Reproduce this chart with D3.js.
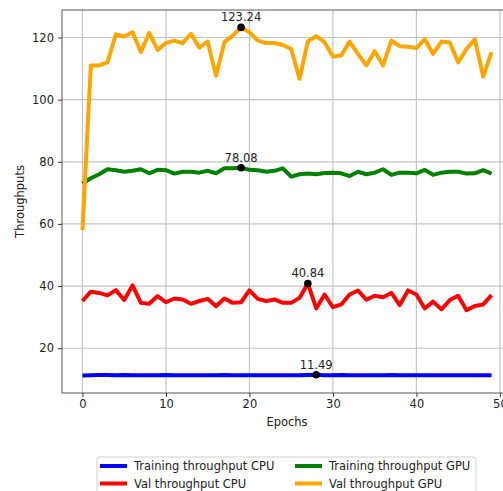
<!DOCTYPE html>
<html>
<head>
<meta charset="utf-8">
<script src="https://cdn.jsdelivr.net/npm/d3@7"></script>
<style>
  html, body { margin: 0; padding: 0; background: #fff; overflow: hidden; }
  svg { display: block; font-family: "DejaVu Sans", sans-serif; }
</style>
</head>
<body>
<div id="chart"></div>
<script>
// values
const epochs = d3.range(50);
const trainCpu = [11.2, 11.3, 11.4, 11.4, 11.3, 11.4, 11.3, 11.3, 11.3, 11.3,
  11.4, 11.3, 11.3, 11.3, 11.3, 11.3, 11.3, 11.4, 11.3, 11.3,
  11.3, 11.3, 11.3, 11.3, 11.3, 11.3, 11.3, 11.4, 11.49, 11.3,
  11.3, 11.4, 11.3, 11.3, 11.3, 11.3, 11.3, 11.4, 11.3, 11.3,
  11.3, 11.3, 11.3, 11.3, 11.3, 11.3, 11.3, 11.3, 11.3, 11.3];
const trainGpu = [73.0, 74.7, 76.0, 77.6, 77.3, 76.8, 77.1, 77.6, 76.3, 77.4,
  77.3, 76.2, 76.8, 76.8, 76.5, 77.1, 76.3, 77.9, 77.9, 78.08,
  77.4, 77.3, 76.8, 77.1, 77.9, 75.2, 76.0, 76.2, 76.0, 76.4,
  76.5, 76.3, 75.4, 76.8, 76.0, 76.5, 77.6, 75.8, 76.5, 76.5,
  76.3, 77.4, 75.8, 76.5, 76.8, 76.8, 76.2, 76.3, 77.3, 76.2];
const valCpu = [35.2, 38.2, 37.8, 37.0, 38.7, 35.5, 40.2, 34.6, 34.3, 36.8,
  34.8, 36.0, 35.7, 34.3, 35.2, 35.9, 33.5, 36.0, 34.6, 34.8,
  38.6, 35.9, 35.2, 35.7, 34.6, 34.6, 36.2, 40.84, 32.8, 37.3,
  33.2, 34.1, 37.3, 38.6, 35.6, 36.9, 36.4, 37.8, 33.9, 38.6,
  37.3, 32.8, 35.0, 32.5, 35.5, 36.9, 32.2, 33.6, 34.1, 37.1];
const valGpu = [58.0, 111.0, 111.0, 112.0, 121.0, 120.3, 121.7, 115.3, 121.5, 116.0,
  118.2, 119.0, 118.2, 121.2, 116.7, 118.7, 107.7, 118.5, 120.6, 123.24,
  121.7, 119.0, 118.2, 118.2, 117.6, 116.3, 106.7, 118.8, 120.4, 118.5,
  113.9, 114.2, 118.7, 114.7, 111.0, 115.6, 111.0, 119.0, 117.2, 117.0,
  116.6, 119.4, 114.7, 118.7, 118.4, 112.0, 116.3, 119.4, 107.4, 115.3];

const series = [
  { name: "Training throughput CPU", values: trainCpu, color: "blue" },
  { name: "Training throughput GPU", values: trainGpu, color: "green" },
  { name: "Val throughput CPU", values: valCpu, color: "red" },
  { name: "Val throughput GPU", values: valGpu, color: "orange" }
];
const xTicks = [0, 10, 20, 30, 40, 50];
const yTicks = [20, 40, 60, 80, 100, 120];

const W = 503, H = 491;
const plot = { left: 62, right: 512, top: 10, bottom: 393 };
const fs = 11.5;

const svg = d3.select("#chart").append("svg")
  .attr("width", W).attr("height", H);

// matplotlib style 5% margins
const allVals = series.flatMap(s => s.values);
const yMin = d3.min(allVals), yMax = d3.max(allVals);
const yPad = (yMax - yMin) * 0.05;
const x = d3.scaleLinear().domain([-2.45, 51.45]).range([plot.left, plot.right]);
const y = d3.scaleLinear().domain([yMin - yPad, yMax + yPad]).range([plot.bottom, plot.top]);

// grid
const grid = svg.append("g").attr("stroke", "#c4c4c4").attr("stroke-width", 1.2);
grid.selectAll(".gx").data(xTicks).enter().append("line")
  .attr("x1", d => x(d)).attr("x2", d => x(d))
  .attr("y1", plot.top).attr("y2", plot.bottom);
grid.selectAll(".gy").data(yTicks).enter().append("line")
  .attr("y1", d => y(d)).attr("y2", d => y(d))
  .attr("x1", plot.left).attr("x2", plot.right);

// axes
const xAxis = svg.append("g")
  .attr("transform", `translate(0,${plot.bottom})`)
  .call(d3.axisBottom(x).tickValues(xTicks).tickSize(4).tickPadding(3));
const yAxis = svg.append("g")
  .attr("transform", `translate(${plot.left},0)`)
  .call(d3.axisLeft(y).tickValues(yTicks).tickSize(4).tickPadding(4));
[xAxis, yAxis].forEach(a => {
  a.select(".domain").remove();
  a.selectAll("text").attr("font-size", fs).attr("fill", "#222")
    .attr("font-family", "DejaVu Sans");
  a.selectAll("line").attr("stroke", "#333");
});

// spines
svg.append("rect")
  .attr("x", plot.left).attr("y", plot.top)
  .attr("width", plot.right - plot.left).attr("height", plot.bottom - plot.top)
  .attr("fill", "none").attr("stroke", "#444").attr("stroke-width", 0.9);

// lines
const line = d3.line().x((d, i) => x(epochs[i])).y(d => y(d));
svg.selectAll(".series").data(series).enter().append("path")
  .attr("d", d => line(d.values))
  .attr("fill", "none")
  .attr("stroke", d => d.color)
  .attr("stroke-width", 4)
  .attr("stroke-linejoin", "round");

// max annotations
series.forEach(s => {
  const i = d3.maxIndex(s.values);
  const v = s.values[i];
  svg.append("circle").attr("cx", x(epochs[i])).attr("cy", y(v)).attr("r", 3.8).attr("fill", "black");
  svg.append("text").attr("x", x(epochs[i])).attr("y", y(v) - 6)
    .attr("text-anchor", "middle").attr("font-size", fs).attr("fill", "#222")
    .text(v.toFixed(2));
});

// axis labels
svg.append("text").attr("x", (plot.left + plot.right) / 2).attr("y", 426)
  .attr("text-anchor", "middle").attr("font-size", fs).attr("fill", "#222").text("Epochs");
svg.append("text")
  .attr("transform", `translate(24,${(plot.top + plot.bottom) / 2}) rotate(-90)`)
  .attr("text-anchor", "middle").attr("font-size", fs).attr("fill", "#222").text("Throughputs");

// legend
const lg = svg.append("g").attr("transform", "translate(97,457)");
lg.append("rect").attr("width", 379).attr("height", 42).attr("rx", 3)
  .attr("fill", "white").attr("stroke", "#d0d0d0");
const cols = [3, 198];
series.forEach((s, k) => {
  const cx = cols[k % 2], cy = 9 + Math.floor(k / 2) * 17.5;
  lg.append("line").attr("x1", cx).attr("x2", cx + 27).attr("y1", cy).attr("y2", cy)
    .attr("stroke", s.color).attr("stroke-width", 4);
  lg.append("text").attr("x", cx + 34).attr("y", cy + 4)
    .attr("font-size", fs).attr("fill", "#222").text(s.name);
});
</script>
</body>
</html>
